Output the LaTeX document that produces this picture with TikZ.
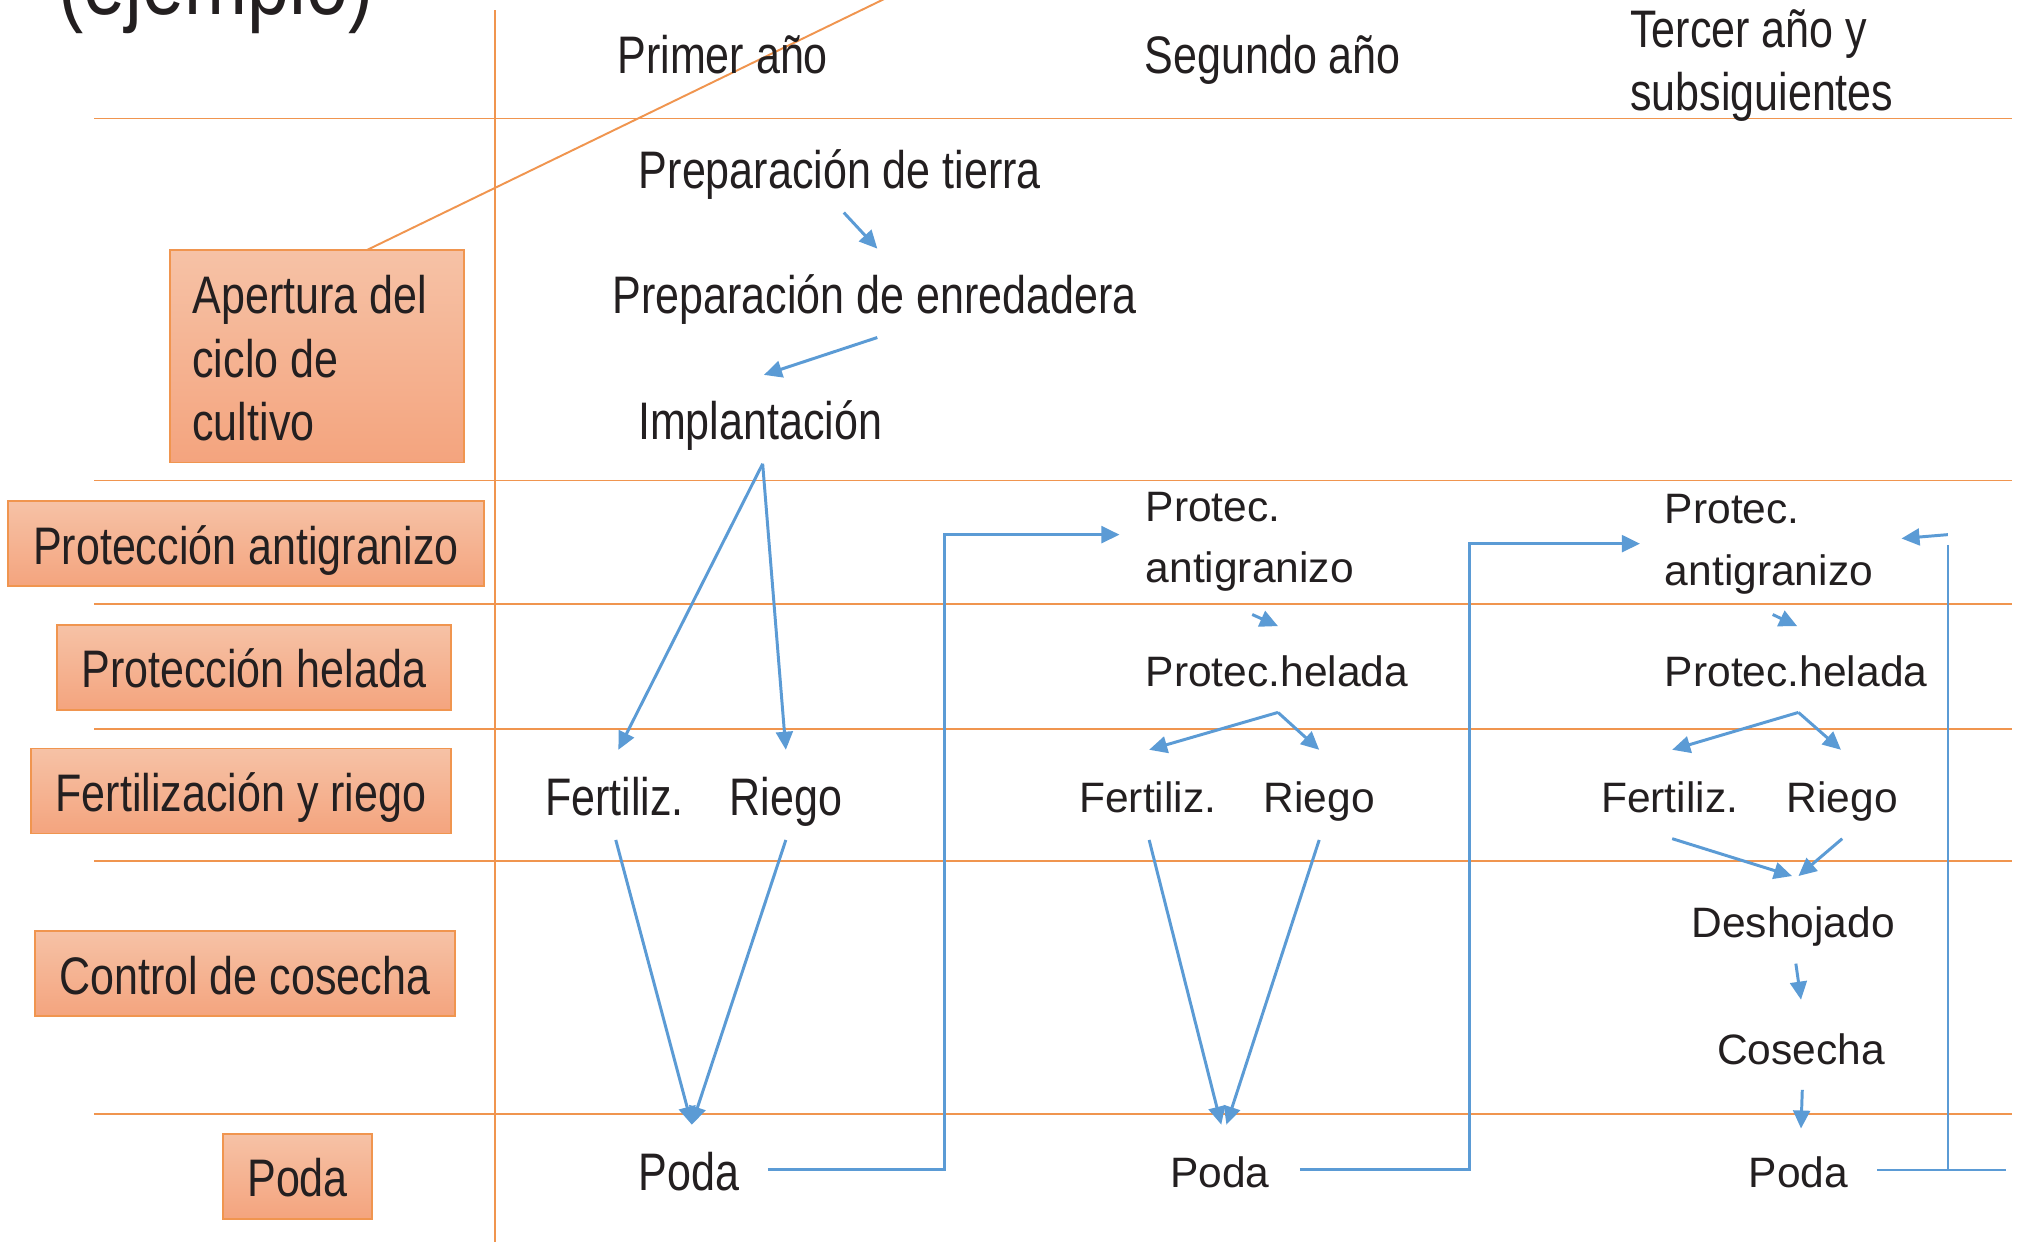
\documentclass[tikz,border=0pt]{standalone}
\usepackage{fontspec}
\setmainfont{Liberation Sans}
\newfontfamily\condfont{Liberation Sans}[FakeStretch=0.815]
\usetikzlibrary{arrows.meta}
\definecolor{myblue}{HTML}{5B9BD5}
\definecolor{gridor}{HTML}{F0954F}
\definecolor{boxtop}{HTML}{F6C2A6}
\definecolor{boxbot}{HTML}{F4A47E}
\definecolor{ink}{HTML}{231F20}
\tikzset{
  gridline/.style={draw=gridor, line width=0.75pt},
  arr/.style={draw=myblue, line width=1.15pt, -{Triangle[length=7pt,width=6.5pt]}},
  thinblue/.style={draw=myblue, line width=0.8pt},
  lbox/.style={draw=gridor, line width=0.75pt, top color=boxtop, bottom color=boxbot,
    inner sep=0pt, text=ink, font=\condfont\fontsize{20.5}{24.5}\selectfont,
    text height=16.4pt, text depth=0.4pt},
  ctxt/.style={inner sep=0pt, text=ink, font=\condfont\fontsize{20.5}{24.5}\selectfont},
  rtxt/.style={inner sep=0pt, text=ink, font=\fontsize{16.5}{24}\selectfont},
}
\begin{document}
\begin{tikzpicture}[x=0.5pt,y=-0.5pt]
\clip (0,0) rectangle (1568,964);
\fill[white] (0,0) rectangle (1568,964);

% title (cut off at the top, as in the reference)
\node[inner sep=0pt, text=ink, font=\condfont\fontsize{36}{40}\selectfont, anchor=base west] (title) at (45,11) {(ejemplo)};

% grid
\foreach \yy in {92,373,469,566,668,865}{\draw[gridline] (73,\yy) -- (1562,\yy);}
\draw[gridline] (384,8) -- (384,964);

% left boxes
\node[lbox, minimum width=114pt, minimum height=82.5pt] (bap) at (246,276.5) {};
\node[ctxt, anchor=north west, align=left] (aptext) at (149,213.6) {Apertura del\\ciclo de\\cultivo};
\coordinate (diagS) at (285,194);
\coordinate (diagE) at (726,-20);
\draw[gridline] (diagS) -- (diagE);
\node[lbox, minimum width=185pt, minimum height=33pt] (bpa) at (191,422) {Protección antigranizo};
\node[lbox, minimum width=153pt, minimum height=33pt] (bph) at (197,518) {Protección helada};
\node[lbox, minimum width=163pt, minimum height=33pt] (bfr) at (187,614) {Fertilización y riego};
\node[lbox, minimum width=163pt, minimum height=33pt] (bcc) at (190,756) {Control de cosecha};
\node[lbox, minimum width=58pt, minimum height=33pt] (bpo) at (231,913) {Poda};

% headers
\node[ctxt, anchor=base] (h1) at (561,57) {Primer año};
\node[ctxt, anchor=base] (h2) at (988,57) {Segundo año};
\node[ctxt, anchor=north west, align=left] (h3) at (1265,7) {Tercer año y\\subsiguientes};

% first year
\node[ctxt, anchor=base] (pt) at (652,146) {Preparación de tierra};
\node[ctxt, anchor=base] (pe) at (679,243) {Preparación de enredadera};
\node[ctxt, anchor=base] (im) at (590,341) {Implantación};
\node[ctxt, anchor=base] (f1) at (477,633) {Fertiliz.};
\node[ctxt, anchor=base] (r1) at (610,633) {Riego};
\node[ctxt, anchor=base] (p1) at (535,924) {Poda};

% second year
\node[rtxt, anchor=north west, align=left] (a2) at (889,381.4) {Protec.\\antigranizo};
\node[rtxt, anchor=base west] (hl2) at (889,533) {Protec.helada};
\node[rtxt, anchor=base] (f2) at (891,631) {Fertiliz.};
\node[rtxt, anchor=base] (r2) at (1024,631) {Riego};
\node[rtxt, anchor=base] (p2) at (947,922) {Poda};

% third year
\node[rtxt, anchor=north west, align=left] (a3) at (1292,383.4) {Protec.\\antigranizo};
\node[rtxt, anchor=base west] (hl3) at (1292,533) {Protec.helada};
\node[rtxt, anchor=base] (f3) at (1296,631) {Fertiliz.};
\node[rtxt, anchor=base] (r3) at (1430,631) {Riego};
\node[rtxt, anchor=base] (d3) at (1392,728) {Deshojado};
\node[rtxt, anchor=base] (c3) at (1398,826) {Cosecha};
\node[rtxt, anchor=base] (p3) at (1396,922) {Poda};

% connector end points
\coordinate (ptS) at (655,165); \coordinate (peN) at (681,193);
\coordinate (peS) at (681,262); \coordinate (imN) at (593,291);
\coordinate (imS) at (592,360); \coordinate (f1N) at (480,582); \coordinate (r1N) at (610,582);
\coordinate (f1S) at (478,652); \coordinate (r1S) at (610,652); \coordinate (p1N) at (537,873);
\coordinate (p1E) at (596,908); \coordinate (k1) at (733,415); \coordinate (a2W) at (869,415);

\coordinate (a2S) at (972,477); \coordinate (hl2N) at (992,486);
\coordinate (hl2S) at (992,553); \coordinate (f2N) at (892,582); \coordinate (r2N) at (1024,582);
\coordinate (f2S) at (892,652); \coordinate (r2S) at (1024,652);
\coordinate (p2Na) at (948,873); \coordinate (p2Nb) at (952,873);
\coordinate (p2E) at (1009,908); \coordinate (k2) at (1141,422); \coordinate (a3W) at (1273,422);

\coordinate (a3S) at (1376,477); \coordinate (hl3N) at (1395,486);
\coordinate (hl3S) at (1396,553); \coordinate (f3N) at (1298,582); \coordinate (r3N) at (1429,582);
\coordinate (f3S) at (1298,651); \coordinate (r3S) at (1430,651);
\coordinate (d3Na) at (1391,680); \coordinate (d3Nb) at (1396,680);
\coordinate (d3S) at (1394,748); \coordinate (c3N) at (1398,776);
\coordinate (c3S) at (1399,846); \coordinate (p3N) at (1398,876);
\coordinate (p3E) at (1457,908); \coordinate (rtE) at (1557,908);
\coordinate (vtop) at (1512,423); \coordinate (vbot) at (1512,908);
\coordinate (retS) at (1512,415); \coordinate (a3E) at (1476,418);

% first year connectors
\draw[arr] (ptS) -- (peN);
\draw[arr] (peS) -- (imN);
\draw[arr] (imS) -- (f1N);
\draw[arr] (imS) -- (r1N);
\draw[arr] (f1S) -- (p1N);
\draw[arr] (r1S) -- (p1N);
\draw[arr] (p1E) -| (k1) -- (a2W);

% second year connectors
\draw[arr] (a2S) -- (hl2N);
\draw[arr] (hl2S) -- (f2N);
\draw[arr] (hl2S) -- (r2N);
\draw[arr] (f2S) -- (p2Na);
\draw[arr] (r2S) -- (p2Nb);
\draw[arr] (p2E) -| (k2) -- (a3W);

% third year connectors
\draw[arr] (a3S) -- (hl3N);
\draw[arr] (hl3S) -- (f3N);
\draw[arr] (hl3S) -- (r3N);
\draw[arr] (f3S) -- (d3Na);
\draw[arr] (r3S) -- (d3Nb);
\draw[arr] (d3S) -- (c3N);
\draw[arr] (c3S) -- (p3N);
\draw[thinblue] (p3E) -- (rtE);
\draw[thinblue] (vtop) -- (vbot);
\draw[arr] (retS) -- (a3E);
\end{tikzpicture}
\end{document}
